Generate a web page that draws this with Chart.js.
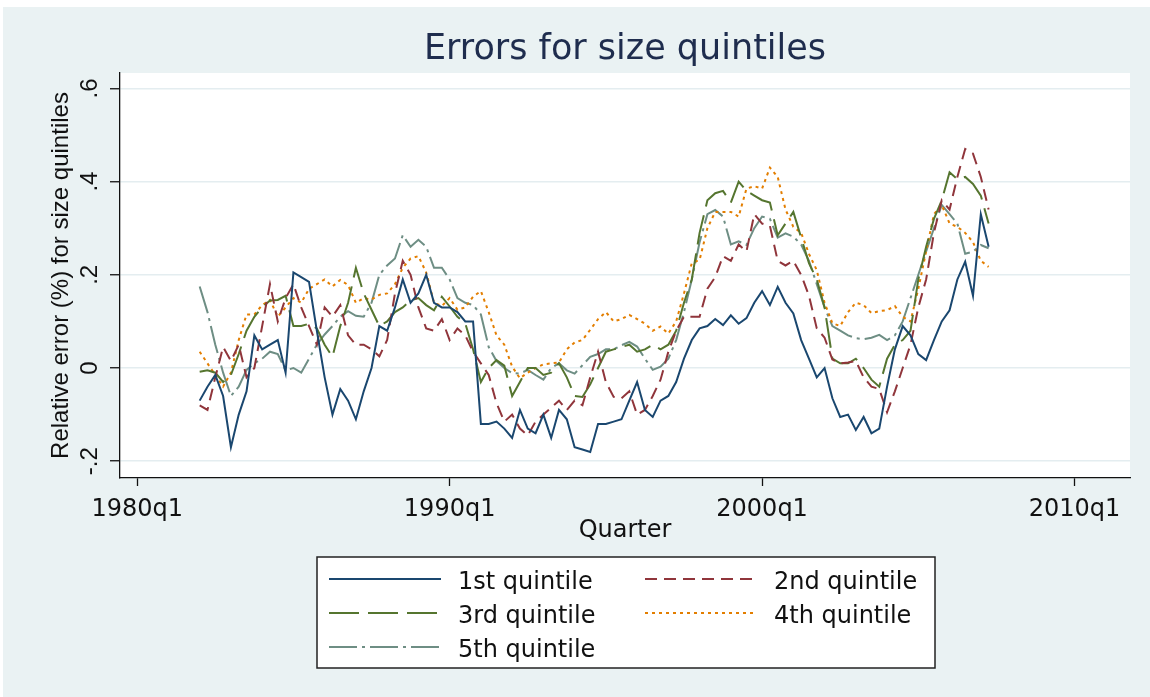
<!DOCTYPE html>
<html>
<head>
<meta charset="utf-8">
<title>Errors for size quintiles</title>
<script src="https://cdn.jsdelivr.net/npm/chart.js@4.4.1/dist/chart.umd.min.js"></script>
<style>
  html, body { margin: 0; padding: 0; background: #fff; }
  canvas { display: block; }
</style>
</head>
<body>
<canvas id="errChart" width="1150" height="697"></canvas>
<script>
// quarters are Stata %tq numbers: 80 = 1980q1, first observation 88 = 1982q1
const startQuarter = 88;

const xTicks = [80, 120, 160, 200];
const xTickLabels = ['1980q1', '1990q1', '2000q1', '2010q1'];
const yTicks = [-0.2, 0, 0.2, 0.4, 0.6];
const yTickLabels = ['-.2', '0', '.2', '.4', '.6'];

const seriesNames = ['1st quintile', '2nd quintile', '3rd quintile', '4th quintile', '5th quintile'];

const q1 = [
  -0.07, -0.04, -0.015, -0.06, -0.17, -0.1, -0.05, 0.07, 0.04, 0.05,
  0.06, -0.01, 0.205, 0.195, 0.185, 0.08, -0.02, -0.1, -0.045, -0.07,
  -0.11, -0.05, 0.0, 0.09, 0.08, 0.13, 0.19, 0.14, 0.16, 0.2,
  0.14, 0.13, 0.13, 0.12, 0.1, 0.1, -0.12, -0.12, -0.115, -0.13,
  -0.15, -0.09, -0.13, -0.14, -0.1, -0.15, -0.09, -0.11, -0.17, -0.175,
  -0.18, -0.12, -0.12, -0.115, -0.11, -0.07, -0.03, -0.09, -0.105, -0.07,
  -0.06, -0.03, 0.02, 0.06, 0.085, 0.09, 0.105, 0.092, 0.113, 0.095,
  0.107, 0.14, 0.165, 0.135, 0.174, 0.14, 0.117, 0.06, 0.02, -0.02,
  0.0, -0.065, -0.105, -0.1, -0.133, -0.105, -0.14, -0.13, -0.04, 0.04,
  0.09, 0.07, 0.03, 0.017, 0.06, 0.1, 0.124, 0.19, 0.228, 0.155,
  0.33, 0.26
];
const q2 = [
  -0.08, -0.09, -0.02, 0.045, 0.015, 0.05, -0.02, 0.0, 0.09, 0.18,
  0.1, 0.15, 0.18, 0.13, 0.09, 0.05, 0.13, 0.11, 0.135, 0.07,
  0.05, 0.05, 0.04, 0.025, 0.06, 0.16, 0.23, 0.2, 0.13, 0.085,
  0.08, 0.105, 0.06, 0.085, 0.07, 0.035, 0.01, -0.015, -0.075, -0.115,
  -0.1, -0.13, -0.145, -0.115, -0.1, -0.085, -0.07, -0.09, -0.07, -0.08,
  -0.02, 0.035, -0.03, -0.062, -0.065, -0.05, -0.1, -0.09, -0.06, -0.025,
  0.035, 0.08, 0.11, 0.11, 0.11, 0.17, 0.195, 0.24, 0.23, 0.265,
  0.25, 0.33, 0.31, 0.305, 0.23, 0.22, 0.23, 0.2, 0.155, 0.085,
  0.065, 0.018, 0.01, 0.012, 0.015, -0.02, -0.04, -0.045, -0.095, -0.05,
  0.0, 0.05, 0.13, 0.19, 0.29, 0.36, 0.34, 0.41, 0.47, 0.46,
  0.41, 0.34
];
const q3 = [
  -0.008, -0.005, -0.01, -0.03, -0.015, 0.03, 0.08, 0.11, 0.13, 0.145,
  0.146, 0.155, 0.09, 0.09, 0.095, 0.085, 0.05, 0.024, 0.09, 0.14,
  0.215, 0.16, 0.125, 0.09, 0.1, 0.12, 0.13, 0.145, 0.15, 0.135,
  0.124, 0.153, 0.132, 0.11, 0.096, 0.04, -0.03, 0.0, 0.017, 0.005,
  -0.06, -0.03, 0.0, 0.0, -0.015, -0.01, 0.01, -0.02, -0.06, -0.062,
  -0.035, 0.0, 0.035, 0.04, 0.045, 0.05, 0.035, 0.04, 0.05, 0.04,
  0.05, 0.08, 0.14, 0.19, 0.29, 0.36, 0.375, 0.38, 0.355, 0.4,
  0.38, 0.37, 0.36, 0.355, 0.285, 0.31, 0.335, 0.28, 0.225, 0.19,
  0.13, 0.02, 0.01, 0.01, 0.02, 0.0, -0.025, -0.04, 0.02, 0.05,
  0.06, 0.08, 0.19, 0.26, 0.32, 0.36, 0.42, 0.405, 0.41, 0.395,
  0.37, 0.31
];
const q4 = [
  0.035, 0.01, -0.015, -0.04, -0.01, 0.06, 0.115, 0.115, 0.135, 0.146,
  0.11, 0.13, 0.15, 0.14, 0.17, 0.18, 0.19, 0.175, 0.189, 0.178,
  0.14, 0.15, 0.147, 0.157, 0.16, 0.18, 0.215, 0.235, 0.24, 0.205,
  0.14, 0.133, 0.15, 0.125, 0.13, 0.153, 0.165, 0.12, 0.07, 0.05,
  0.003, -0.022, -0.01, 0.0, 0.008, 0.01, 0.012, 0.04, 0.055, 0.06,
  0.082, 0.105, 0.12, 0.1, 0.105, 0.114, 0.105, 0.095, 0.08, 0.089,
  0.074, 0.1, 0.16, 0.225, 0.232, 0.3, 0.335, 0.335, 0.335, 0.325,
  0.385, 0.39, 0.385, 0.43, 0.41, 0.34, 0.303, 0.29, 0.245, 0.21,
  0.14, 0.096, 0.09, 0.12, 0.14, 0.135, 0.118, 0.122, 0.124, 0.133,
  0.11, 0.1, 0.17, 0.25, 0.33, 0.35, 0.31, 0.303, 0.29, 0.27,
  0.23, 0.217
];
const q5 = [
  0.175, 0.12, 0.05, -0.01, -0.06, -0.04, -0.004, 0.01, 0.02, 0.035,
  0.03, -0.005, 0.0, -0.01, 0.02, 0.05, 0.072, 0.09, 0.11, 0.122,
  0.112, 0.11, 0.14, 0.2, 0.22, 0.235, 0.285, 0.26, 0.275, 0.26,
  0.215, 0.215, 0.19, 0.15, 0.14, 0.135, 0.115, 0.045, 0.015, 0.0,
  -0.011, -0.012, -0.004, -0.015, -0.025, 0.0, 0.01, -0.005, -0.012, 0.006,
  0.024, 0.03, 0.04, 0.04, 0.049, 0.056, 0.046, 0.02, -0.004, 0.003,
  0.02, 0.06, 0.12, 0.19, 0.27, 0.33, 0.339, 0.325, 0.265, 0.272,
  0.264, 0.3, 0.325, 0.32, 0.28, 0.289, 0.282, 0.265, 0.23, 0.18,
  0.13, 0.09, 0.08, 0.07, 0.064, 0.062, 0.065, 0.071, 0.06, 0.07,
  0.1, 0.15, 0.2, 0.25, 0.3, 0.35, 0.33, 0.31, 0.245, 0.25,
  0.264, 0.257
];

const lineColors = ['#1a476f', '#90353b', '#55752f', '#e37e00', '#6e8e84'];
const lineDashes = [[], [12, 7], [30, 9], [3, 4], [28, 5, 3, 5]];

function toPoints(values) {
  return values.map((v, i) => ({ x: startQuarter + i, y: v }));
}

const allSeries = [q1, q2, q3, q4, q5];
const datasets = allSeries.map((vals, i) => ({
  label: seriesNames[i],
  data: toPoints(vals),
  borderColor: lineColors[i],
  borderDash: lineDashes[i],
  borderWidth: 2,
  pointRadius: 0,
  tension: 0,
  fill: false
}));

// light blue-gray graph region, white plot region
const backdrop = {
  id: 'backdrop',
  beforeDraw(chart) {
    const { ctx, chartArea: a } = chart;
    ctx.save();
    ctx.fillStyle = '#ffffff';
    ctx.fillRect(0, 0, chart.width, chart.height);
    ctx.fillStyle = '#eaf2f3';
    ctx.fillRect(3, 7, chart.width - 3, chart.height - 7);
    ctx.fillStyle = '#ffffff';
    ctx.fillRect(a.left, a.top, a.right - a.left, a.bottom - a.top);
    ctx.restore();
  }
};

// stata style legend: framed box, two columns
const boxLegend = {
  id: 'boxLegend',
  afterDraw(chart) {
    const ctx = chart.ctx;
    const box = { x: 317, y: 557, w: 618, h: 111 };
    ctx.save();
    ctx.fillStyle = '#ffffff';
    ctx.fillRect(box.x, box.y, box.w, box.h);
    ctx.strokeStyle = '#222';
    ctx.lineWidth = 1.5;
    ctx.strokeRect(box.x, box.y, box.w, box.h);

    ctx.font = '24px "DejaVu Sans"';
    ctx.textBaseline = 'middle';
    ctx.textAlign = 'left';
    chart.data.datasets.forEach((ds, i) => {
      const col = i % 2;
      const row = Math.floor(i / 2);
      const lx = box.x + 12 + col * 316;
      const ly = box.y + 22 + row * 34;
      ctx.setLineDash(ds.borderDash);
      ctx.strokeStyle = ds.borderColor;
      ctx.lineWidth = ds.borderWidth;
      ctx.beginPath();
      ctx.moveTo(lx, ly);
      ctx.lineTo(lx + 112, ly);
      ctx.stroke();
      ctx.setLineDash([]);
      ctx.fillStyle = '#111';
      ctx.fillText(ds.label, lx + 129, ly + 4);
    });
    ctx.restore();
  }
};

Chart.defaults.font.family = '"DejaVu Sans"';
Chart.defaults.color = '#111';

new Chart(document.getElementById('errChart'), {
  type: 'line',
  data: { datasets: datasets },
  options: {
    responsive: false,
    animation: false,
    devicePixelRatio: 1,
    layout: { padding: { left: 3, right: 20, top: 7, bottom: 149 } },
    plugins: {
      legend: { display: false },
      tooltip: { enabled: false },
      title: {
        display: true,
        fullSize: false,
        text: 'Errors for size quintiles',
        color: '#1f2d4e',
        font: { family: '"DejaVu Sans"', size: 35, weight: 'normal', lineHeight: 1.2 },
        padding: { top: 22, bottom: 2 }
      }
    },
    scales: {
      x: {
        type: 'linear',
        min: 77.8,
        max: 207.1,
        afterBuildTicks: s => { s.ticks = xTicks.map(v => ({ value: v })); },
        afterFit: s => { s.height = 70; },
        ticks: {
          autoSkip: false,
          maxRotation: 0,
          padding: 9,
          color: '#111',
          font: { size: 24 },
          callback: (v, i) => xTickLabels[i]
        },
        grid: { drawOnChartArea: false, tickColor: '#111', tickLength: 8, tickWidth: 1.3 },
        border: { color: '#111', width: 1.3 },
        title: {
          display: true,
          text: 'Quarter',
          color: '#111',
          font: { size: 24, lineHeight: 1.2 },
          padding: { top: 0, bottom: 3 }
        }
      },
      y: {
        min: -0.236,
        max: 0.633,
        afterBuildTicks: s => { s.ticks = yTicks.map(v => ({ value: v })); },
        afterFit: s => { s.width = 117; },
        ticks: {
          autoSkip: false,
          minRotation: 90,
          maxRotation: 90,
          crossAlign: 'center',
          padding: 6,
          color: '#111',
          font: { family: '"Liberation Sans"', size: 24 },
          callback: (v, i) => yTickLabels[i]
        },
        grid: { color: '#e4edf0', lineWidth: 1.5, tickColor: '#111', tickLength: 10, tickWidth: 1.3 },
        border: { color: '#111', width: 1.3 },
        title: {
          display: true,
          text: 'Relative error (%) for size quintiles',
          color: '#111',
          font: { family: '"Liberation Sans"', size: 24, lineHeight: 1.2 },
          padding: { top: 44, bottom: 0 }
        }
      }
    }
  },
  plugins: [backdrop, boxLegend]
});
</script>
</body>
</html>
